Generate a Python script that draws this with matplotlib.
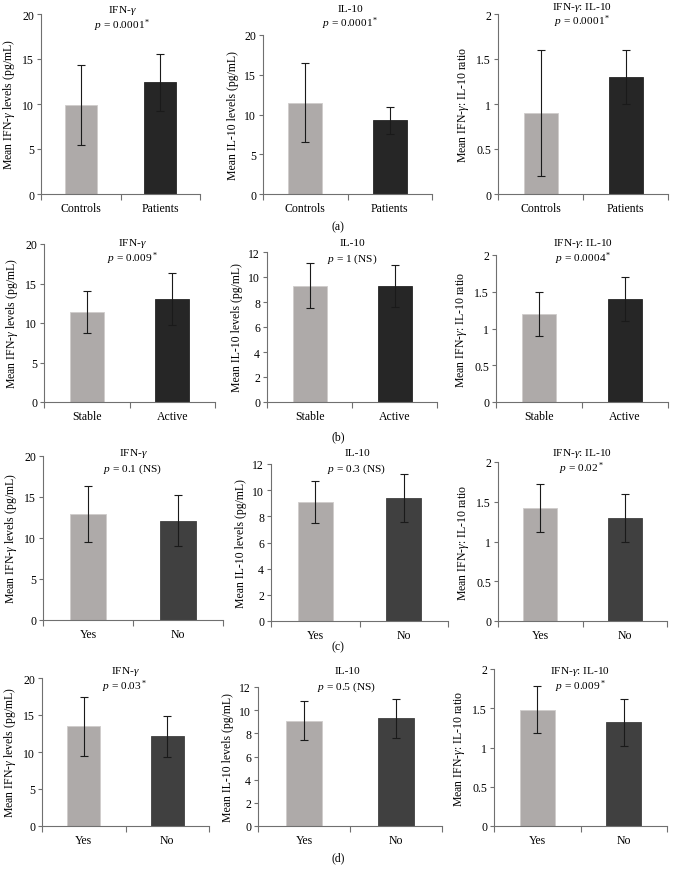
import matplotlib
matplotlib.use("Agg")
import matplotlib.pyplot as plt
from matplotlib.ticker import FuncFormatter, MultipleLocator, FixedLocator

plt.rcParams['font.family'] = ['Liberation Serif', 'DejaVu Serif']
plt.rcParams['mathtext.fontset'] = 'custom'
plt.rcParams['mathtext.rm'] = 'Liberation Serif'
plt.rcParams['mathtext.it'] = 'Liberation Serif:italic'
plt.rcParams['mathtext.bf'] = 'Liberation Serif:bold'

# ---------------- data ----------------
row_cats = [["Controls", "Patients"], ["Stable", "Active"], ["Yes", "No"], ["Yes", "No"]]
row_labels = ["(a)", "(b)", "(c)", "(d)"]

ifn_mean = [[9.9, 12.4], [11.4, 13.0], [12.9, 12.1], [13.5, 12.1]]
ifn_err = [[4.4, 3.2], [2.7, 3.3], [3.4, 3.1], [4.0, 2.8]]
il10_mean = [[11.5, 9.3], [9.3, 9.3], [9.1, 9.4], [9.1, 9.3]]
il10_err = [[5.0, 1.7], [1.8, 1.7], [1.6, 1.8], [1.7, 1.7]]
ratio_mean = [[0.9, 1.3], [1.2, 1.4], [1.42, 1.3], [1.48, 1.32]]
ratio_err = [[0.7, 0.3], [0.3, 0.3], [0.3, 0.3], [0.3, 0.3]]

p_text = [["0.0001", "0.0001", "0.0001"],
          ["0.009", "1 (NS)", "0.0004"],
          ["0.1 (NS)", "0.3 (NS)", "0.02"],
          ["0.03", "0.5 (NS)", "0.009"]]
p_sig = [[True, True, True],
         [True, False, True],
         [False, False, True],
         [True, False, True]]

titles = ["IFN-$\\mathit{γ}$", "IL-10", "IFN-$\\mathit{γ}$: IL-10"]
ylabels = ["Mean IFN-$\\mathit{γ}$ levels (pg/mL)",
           "Mean IL-10 levels (pg/mL)",
           "Mean IFN-$\\mathit{γ}$: IL-10 ratio"]

# ---------------- layout (pixels) ----------------
W, H = 675, 870
# (left, top, right, bottom) per panel
boxes = [
    [(41, 15, 200, 195), (263, 36, 432, 195), (498, 15, 668, 195)],
    [(44, 245, 215, 403), (267, 253, 437, 403), (496, 256, 668, 403)],
    [(43, 457, 223, 621), (271, 465, 448, 622), (498, 463, 667, 622)],
    [(42, 679, 209, 827), (258, 688, 442, 827), (494, 670, 667, 827)],
]
# title centers (x, y_title, y_p)
title_pos = [
    [(122, 10.5, 25.5), (350, 9, 24), (582, 7, 22)],
    [(132, 244, 259), (352, 244, 259), (583, 244, 259)],
    [(133, 454, 469), (357, 454, 469), (582, 454, 469)],
    [(125, 671, 687), (347, 671, 687), (580, 671, 687)],
]
row_label_y = [227, 437, 647, 858]

light = '#aeaaa9'
dark_rows = ['#262626', '#262626', '#404040', '#404040']
spine_col = '#707070'
fs = 8.5
fs_t = 8.2

fig = plt.figure(figsize=(W / 100, H / 100), dpi=100)
fig.patch.set_facecolor('white')

def fmt(v, pos):
    return f"{v:g}"

for r in range(4):
    panels = [
        (ifn_mean[r], ifn_err[r], 20, 5),
        (il10_mean[r], il10_err[r], 20 if r == 0 else 12, 5 if r == 0 else 2),
        (ratio_mean[r], ratio_err[r], 2, 0.5),
    ]
    for c in range(3):
        means, errs, ymax, step = panels[c]
        l, t, rr, b = boxes[r][c]
        ax = fig.add_axes([l / W, 1 - b / H, (rr - l) / W, (b - t) / H])
        xs = [0.5, 1.5]
        ax.bar(xs, means, width=0.4, color=[light, dark_rows[r]],
               edgecolor=['#cfcccb', dark_rows[r]], linewidth=0.6, zorder=2)
        ax.errorbar(xs, means, yerr=errs, fmt='none', ecolor='#1a1a1a',
                    elinewidth=0.8, capsize=2.8, capthick=0.8, zorder=3)
        ax.set_xlim(0, 2)
        ax.set_ylim(0, ymax)
        ax.yaxis.set_major_locator(MultipleLocator(step))
        ax.yaxis.set_major_formatter(FuncFormatter(fmt))
        ax.xaxis.set_major_locator(FixedLocator([0, 1, 2]))
        ax.xaxis.set_major_formatter(FuncFormatter(lambda v, p: ""))
        ax.xaxis.set_minor_locator(FixedLocator(xs))
        ax.set_xticklabels(row_cats[r], minor=True)
        ax.tick_params(axis='x', which='major', direction='out', length=4,
                       width=0.8, color=spine_col)
        ax.tick_params(axis='x', which='minor', length=0, labelsize=fs, pad=6)
        ax.tick_params(axis='y', direction='out', length=3, width=0.8,
                       color=spine_col, labelsize=fs, pad=2)
        for s in ['top', 'right']:
            ax.spines[s].set_visible(False)
        for s in ['left', 'bottom']:
            ax.spines[s].set_color(spine_col)
            ax.spines[s].set_linewidth(0.8)
        ax.set_ylabel(ylabels[c], fontsize=fs, labelpad=4)
        ax.patch.set_alpha(0)

        tx, ty, tp = title_pos[r][c]
        fig.text(tx / W, 1 - ty / H, titles[c], ha='center', va='center', fontsize=fs_t)
        star = "$^*$" if p_sig[r][c] else ""
        fig.text(tx / W, 1 - tp / H, "$p$ = " + p_text[r][c] + star,
                 ha='center', va='center', fontsize=fs_t)

    fig.text(338 / W, 1 - row_label_y[r] / H, row_labels[r], ha='center',
             va='center', fontsize=fs)

fig.savefig("out.png", dpi=100, facecolor='white')
